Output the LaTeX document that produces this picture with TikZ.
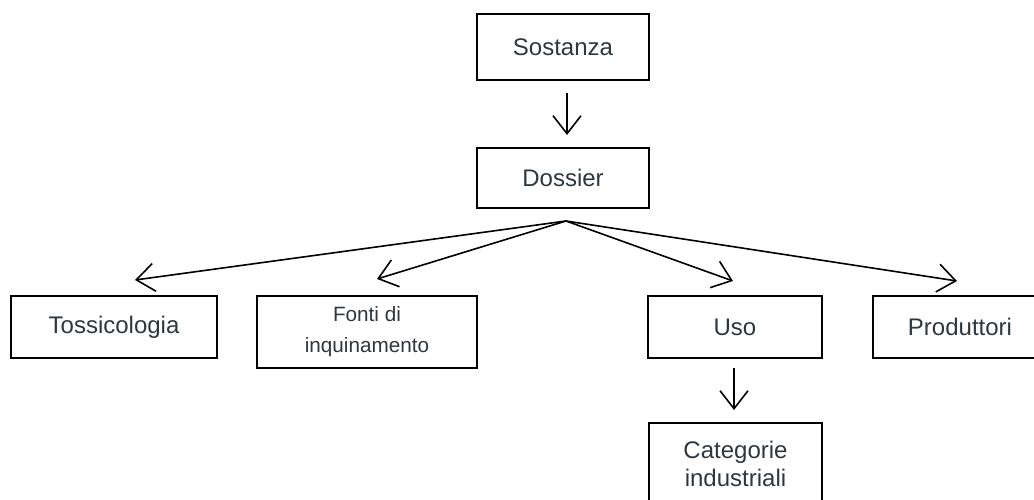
\documentclass[tikz,border=0pt]{standalone}
\usepackage{fontspec}
\setmainfont{Liberation Sans}
\usetikzlibrary{arrows.meta}
\definecolor{txt}{RGB}{45,56,62}
\begin{document}
\begin{tikzpicture}[x=1pt,y=-1pt,
  box/.style={draw=black,line width=1.3pt,fill=white,text=txt,inner sep=0pt,align=center,font=\fontsize{24}{28}\selectfont},
  conn/.style={line width=1.6pt,-{Straight Barb[length=18pt,width=28pt,line width=1.6pt]}}]
\useasboundingbox (0,0) rectangle (1034,499);
\begin{scope}
\clip (0,0) rectangle (1034,499);
\node[box,minimum width=172pt,minimum height=66pt] (sost) at (563,47) {Sostanza};
\node[box,minimum width=172pt,minimum height=60pt] (doss) at (563,178) {Dossier};
\node[box,minimum width=206pt,minimum height=62pt] (toss) at (114,327) {Tossicologia};
\node[box,minimum width=220pt,minimum height=72pt,font=\fontsize{20.7}{31}\selectfont] (fonti) at (367,332) {Fonti di\\inquinamento};
\node[box,minimum width=174pt,minimum height=62pt] (uso) at (735,327) {Uso};
\node[box,minimum width=174pt,minimum height=62pt] (prod) at (960,327) {Produttori};
\node[box,minimum width=173pt,minimum height=82pt] (cat) at (735.5,464) {Categorie\\industriali};
\end{scope}
\coordinate (s1) at (567,93);
\coordinate (s2) at (567,135);
\coordinate (apex) at (566,221);
\coordinate (t1) at (135,280);
\coordinate (t2) at (377,279);
\coordinate (t3) at (733,281);
\coordinate (t4) at (957,281);
\coordinate (u1) at (734,368);
\coordinate (u2) at (734,410);
\draw[conn] (s1) -- (s2);
\draw[conn] (apex) -- (t1);
\draw[conn] (apex) -- (t2);
\draw[conn] (apex) -- (t3);
\draw[conn] (apex) -- (t4);
\draw[conn] (u1) -- (u2);
\end{tikzpicture}
\end{document}
